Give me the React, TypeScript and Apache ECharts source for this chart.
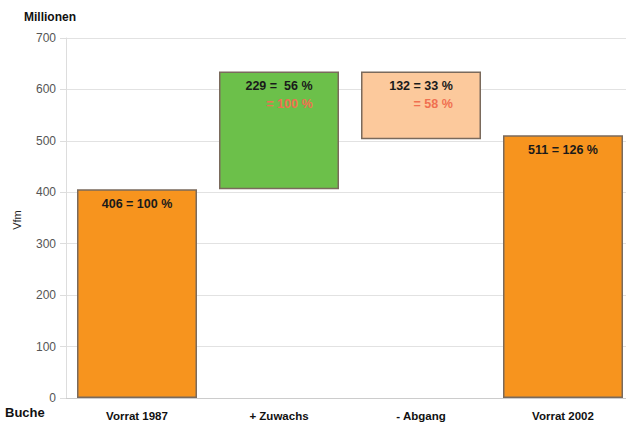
import React, { useEffect, useRef } from "react";
import * as echarts from "echarts";

const categories = ["Vorrat 1987", "+ Zuwachs", "- Abgang", "Vorrat 2002"];
const baseValues = [0, 406, 503, 0];
const barValues = [406, 229, 132, 511];
const barColors = ["#F7941E", "#6CC04A", "#FCC99C", "#F7941E"];
const labelLine1 = ["406 = 100 %", "229 =  56 %", "132 = 33 %", "511 = 126 %"];
const labelLine2 = ["", "= 100 %", "= 58 %", ""];
const yTicks = { min: 0, max: 700, interval: 100 };

export default function App() {
  const ref = useRef<HTMLDivElement>(null);
  useEffect(() => {
    if (!ref.current) return;
    const chart = echarts.init(ref.current, null, { renderer: "svg" });
    const font = "'Liberation Sans', Arial, sans-serif";
    chart.setOption({
      animation: false,
      textStyle: { fontFamily: font },
      grid: { left: 66, top: 38, width: 568, height: 360 },
      xAxis: {
        type: "category",
        data: categories,
        axisLine: { lineStyle: { color: "#cccccc", width: 1 } },
        axisTick: { show: false },
        axisLabel: { color: "#111", fontWeight: "bold", fontSize: 11.5, margin: 12, fontFamily: font },
      },
      yAxis: {
        type: "value",
        min: yTicks.min,
        max: yTicks.max,
        interval: yTicks.interval,
        axisLine: { show: true, lineStyle: { color: "#dddddd" } },
        axisTick: { show: true, length: 6, lineStyle: { color: "#dddddd" } },
        splitLine: { lineStyle: { color: "#e2e2e2" } },
        axisLabel: { color: "#555", fontSize: 12, margin: 10, fontFamily: font },
      },
      series: [
        {
          type: "bar",
          stack: "w",
          data: baseValues,
          itemStyle: { color: "transparent" },
          barWidth: 120,
          silent: true,
        },
        {
          type: "bar",
          stack: "w",
          barWidth: 120,
          data: barValues.map((v, i) => ({
            value: v,
            itemStyle: { color: barColors[i], borderColor: "#7a6a5c", borderWidth: 1.5 },
            label: {
              show: true,
              position: "insideTop",
              distance: 6,
              formatter: labelLine2[i]
                ? `{a|${labelLine1[i]}}\n{b|${labelLine2[i]}}`
                : `{a|${labelLine1[i]}}`,
              rich: {
                a: { fontWeight: "bold", fontSize: 12.5, color: "#1a1a1a", lineHeight: 18, fontFamily: font },
                b: { fontWeight: "bold", fontSize: 12.5, color: "#F07050", lineHeight: 18, align: "right", fontFamily: font },
              },
            },
          })),
        },
      ],
      graphic: [
        { type: "text", left: 24, top: 11, style: { text: "Millionen", font: `bold 12px ${font}`, fill: "#111" } },
        { type: "text", x: 17, y: 220, rotation: Math.PI / 2, style: { text: "Vfm", font: `11px ${font}`, fill: "#222", textAlign: "center", textVerticalAlign: "middle" } },
        { type: "text", left: 5, top: 406, style: { text: "Buche", font: `bold 13px ${font}`, fill: "#111" } },
      ],
    });
    return () => chart.dispose();
  }, []);
  return (
    <div style={{ position: "absolute", left: 0, top: 0, width: 626, height: 424, overflow: "hidden", background: "#fff" }}>
      <div ref={ref} style={{ width: 640, height: 424 }} />
    </div>
  );
}
